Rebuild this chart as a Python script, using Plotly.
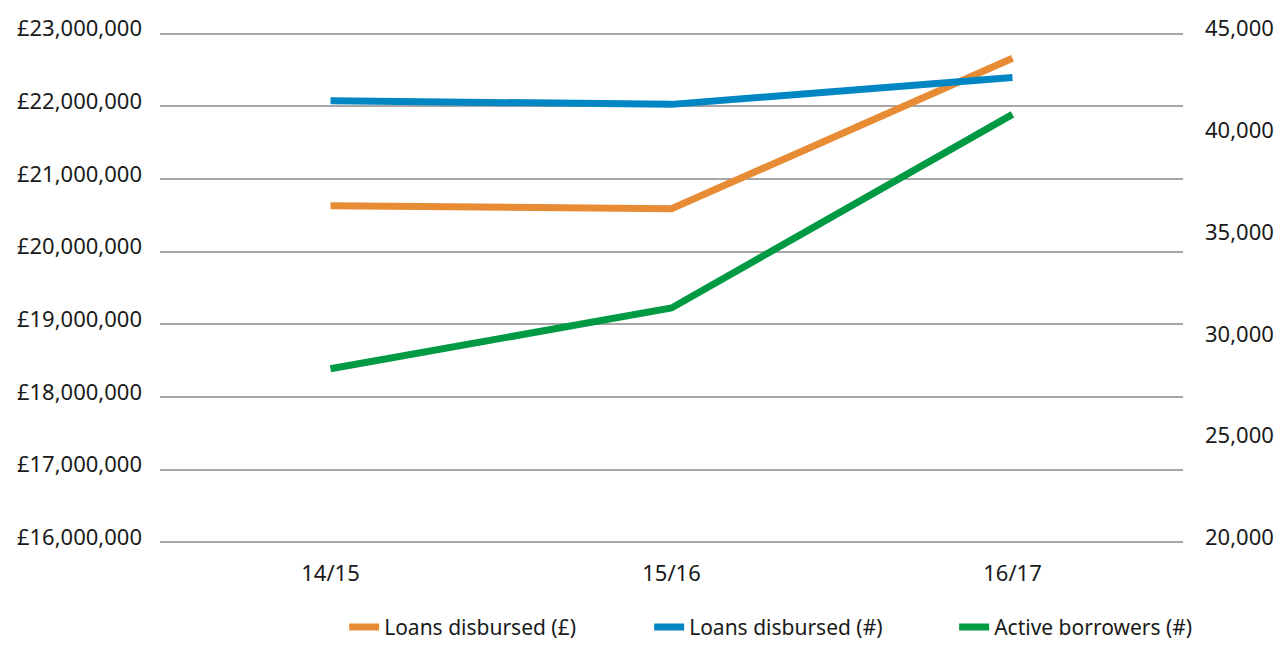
"""Loans disbursed and active borrowers, 14/15 to 16/17."""

import plotly.graph_objects as go

YEARS = ["14/15", "15/16", "16/17"]
LOANS_GBP = [20_630_000, 20_590_000, 22_660_000]
LOANS_COUNT = [41_700, 41_520, 42_840]
ACTIVE_BORROWERS = [28_530, 31_520, 41_030]

LEFT_TICKS = list(range(16_000_000, 23_000_001, 1_000_000))
RIGHT_TICKS = list(range(20_000, 45_001, 5_000))

FONT = "Noto Sans"
TEXT = "#1a1a1a"
GRID = "#a6a6a6"

# pad the ranges a touch so the top and bottom gridlines are drawn
PAD = 0.003
left_span = LEFT_TICKS[-1] - LEFT_TICKS[0]
right_span = RIGHT_TICKS[-1] - RIGHT_TICKS[0]

fig = go.Figure()
fig.add_trace(
    go.Scatter(
        x=YEARS, y=LOANS_GBP, mode="lines", name="Loans disbursed (£)",
        line={"color": "#e88b35", "width": 7},
    )
)
fig.add_trace(
    go.Scatter(
        x=YEARS, y=LOANS_COUNT, mode="lines", name="Loans disbursed (#)",
        line={"color": "#0086c3", "width": 7}, yaxis="y2",
    )
)
fig.add_trace(
    go.Scatter(
        x=YEARS, y=ACTIVE_BORROWERS, mode="lines", name="Active borrowers (#)",
        line={"color": "#009a44", "width": 7}, yaxis="y2",
    )
)

# the page body has an 8px margin all round, so keep the figure inside the window
fig.update_layout(
    width=1266,
    height=634,
    margin={"l": 152, "r": 91, "t": 23.5, "b": 97.5, "autoexpand": False},
    paper_bgcolor="white",
    plot_bgcolor="white",
    font={"family": FONT, "size": 22, "color": TEXT},
    showlegend=True,
    legend={
        "orientation": "h", "x": 0.18, "xanchor": "left", "y": -0.163, "yanchor": "middle",
        "entrywidth": 260, "font": {"size": 21}, "itemwidth": 30,
    },
    xaxis={
        "type": "category", "range": [-0.5, 2.5], "showgrid": False,
        "showline": False, "ticks": "", "ticklabelstandoff": 14, "automargin": False,
    },
    yaxis={
        "range": [LEFT_TICKS[0] - PAD * left_span, LEFT_TICKS[-1] + PAD * left_span],
        "tickvals": LEFT_TICKS,
        "ticktext": [f"£{v:,}" for v in LEFT_TICKS],
        "showgrid": True, "gridcolor": GRID, "gridwidth": 2,
        "zeroline": False, "showline": False, "ticks": "", "ticklabelstandoff": 17,
        "ticklabelshift": -5, "automargin": False,
    },
    yaxis2={
        "range": [RIGHT_TICKS[0] - PAD * right_span, RIGHT_TICKS[-1] + PAD * right_span],
        "tickvals": RIGHT_TICKS,
        "ticktext": [f"{v:,}" for v in RIGHT_TICKS],
        "overlaying": "y", "side": "right", "showgrid": False,
        "zeroline": False, "showline": False, "ticks": "", "ticklabelstandoff": 21,
        "ticklabelshift": -5, "automargin": False,
    },
)

fig.write_html("out.html")
